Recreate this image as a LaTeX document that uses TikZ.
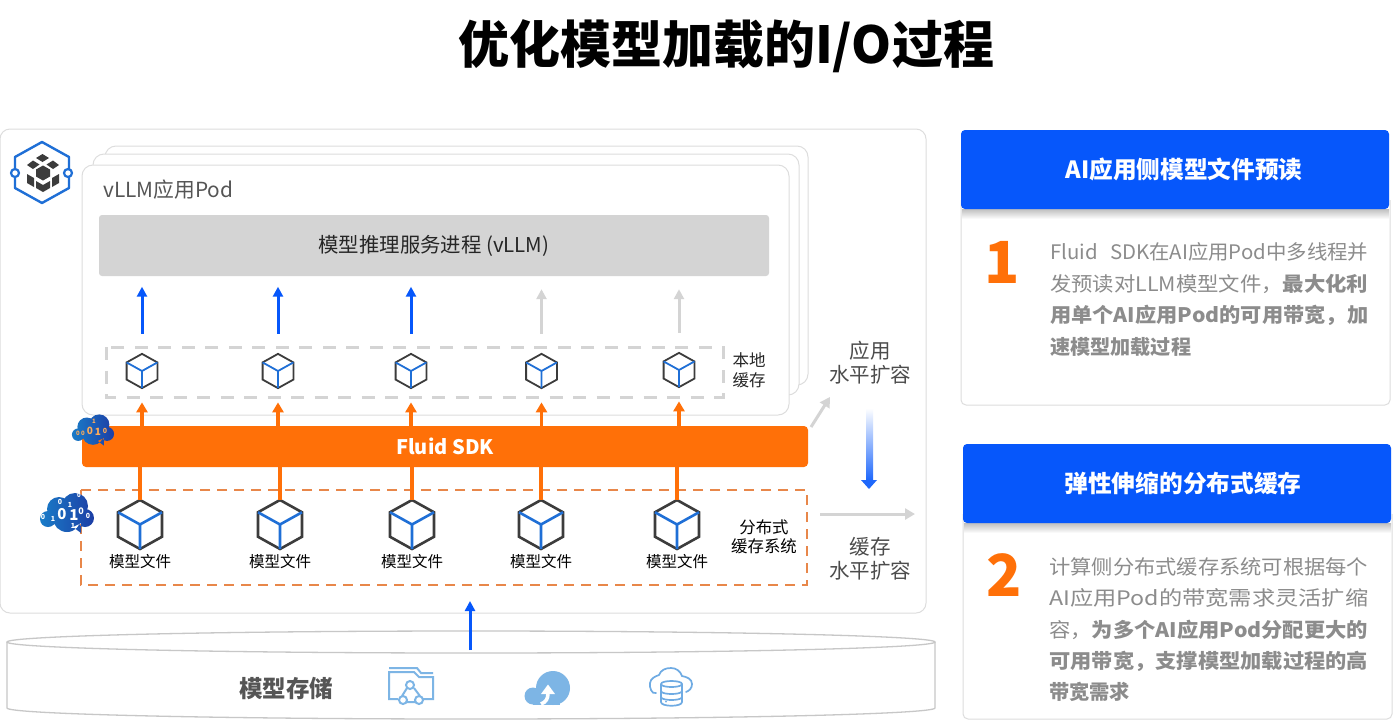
\documentclass[tikz,border=0pt]{standalone}
\usepackage{fontspec}
\setmainfont{Noto Sans CJK SC}
\usetikzlibrary{arrows.meta,calc}
\definecolor{cblue}{HTML}{0657FB}
\definecolor{aorange}{HTML}{FF7008}
\definecolor{dashor}{HTML}{E8874A}
\definecolor{lgray}{HTML}{DDDDDD}
\definecolor{agray}{HTML}{D4D4D4}
\definecolor{cdark}{HTML}{3C3C3C}
\definecolor{ciblue}{HTML}{1F6FD6}
\definecolor{iconb}{HTML}{7DB5E5}
\definecolor{textg}{HTML}{8C8C8C}
\definecolor{labelg}{HTML}{555555}
\definecolor{cloudl}{HTML}{1A7CC8}
\definecolor{cloudr}{HTML}{1C3EA5}
\newcommand{\fs}[1]{\fontsize{#1pt}{#1pt}\selectfont}
\newcommand{\tline}[2]{\resizebox{#1pt}{\height}{#2}}
\tikzset{
  card/.style={draw=lgray,line width=1pt,fill=white,rounded corners=11pt},
  blueup/.style={draw=cblue,line width=3pt,-{Triangle[length=10pt,width=10pt]}},
  grayup/.style={draw=agray,line width=3pt,-{Triangle[length=10pt,width=10pt]}},
  orangeup/.style={draw=aorange,line width=3.4pt,-{Triangle[length=10pt,width=11pt]}},
  orangeln/.style={draw=aorange,line width=3.4pt},
  cubebox/.style={inner sep=0pt,minimum width=#1*44pt,minimum height=#1*49pt},
  lbl/.style={inner sep=0pt,align=center,text=black},
  grayt/.style={inner sep=0pt,anchor=west,text=textg},
  head/.style={fill=cblue,rounded corners=4pt,text=white,font=\fs{23.7}\bfseries},
  pics/cubeicon/.style={code={
    \draw[cdark,line join=miter] (0,-24.5)--(22,-12.25)--(22,12.25)--(0,24.5)--(-22,12.25)--(-22,-12.25)--cycle;
    \draw[ciblue] (-22,-12.25)--(0,0)--(22,-12.25) (0,0)--(0,24.5);
  }},
  pics/bincloud/.style={code={
    \shade[left color=cloudl,right color=cloudr,draw=none]
      (-19,6) circle (8) (-8,-4) circle (12) (8,-7) circle (13) (18,5) circle (9) (0,5) circle (14)
      (6,14)--(14,20)--(14,10)--cycle;
  }},
}
\begin{document}
\begin{tikzpicture}[x=1pt,y=-1pt]
\useasboundingbox (0,0) rectangle (1400,721);
\fill[white] (0,0) rectangle (1400,721);
% title
\node[inner sep=0pt,font=\fs{51}\bfseries,text=black] (title) at (726,46.5) {优化模型加载的I/O过程};
% outer panel
\draw[lgray,line width=1pt,rounded corners=10pt,fill=white] (0,129) rectangle (926,613);
% logo
\draw[ciblue,line width=2.4pt,line join=round] (42,142)--(69,157)--(69,188)--(42,203)--(15,188)--(15,157)--cycle;
\draw[ciblue,line width=2.2pt,fill=white] (15,173) circle (4) (68,173) circle (4);
\fill[cdark] (42.5,154)--(49,158)--(42.5,162)--(36,158)--cycle
  (33,160.5)--(39.5,164.5)--(33,169)--(27,165)--cycle
  (53,160.5)--(59,165)--(53,169)--(46.5,164.5)--cycle
  (43,165.5)--(50,169.5)--(50,176.5)--(43,180.5)--(36,176.5)--(36,169.5)--cycle
  (27,174)--(34,178)--(34,187)--(27,183)--cycle
  (59,174)--(59,183)--(52,187)--(52,178)--cycle
  (36,181)--(43,185)--(50,181)--(50,188)--(43,192)--(36,188)--cycle;
% pods
\draw[card] (105,146) rectangle (808,385);
\draw[card] (93,154) rectangle (799,395);
\draw[card] (82,165) rectangle (789,415);
\node[inner sep=0pt,anchor=west,font=\fs{20.8},text=labelg] (podl) at (103,190) {vLLM应用Pod};
\node[fill=agray,rounded corners=3pt,minimum width=670pt,minimum height=61pt,inner sep=0pt,font=\fs{20.4},text=black!85] (proc) at (434,245.5) {\raisebox{-1pt}{模型推理服务进程 (vLLM)}};
% local cache
\draw[agray,line width=3pt,dash pattern=on 13pt off 10.5pt] (106,347) rectangle (723,397);
\foreach \n/\x/\y in {1/142/371,2/278/371,3/411/371,4/541.5/371,5/679/370}{
  \node[cubebox=.7] (lc\n) at (\x,\y) {};
  \pic[scale=.7,line width=1.8pt] at (lc\n) {cubeicon};
}
\node[lbl,font=\fs{16.5},text=black!85] (loc) at (749,370) {本地\\[3pt]缓存};
% sdk
\node[fill=aorange,rounded corners=4pt,minimum width=726pt,minimum height=41pt,inner sep=0pt,text=white,font=\fs{20}\bfseries] (sdk) at (445,446.5) {Fluid SDK};
% distributed cache
\draw[dashor,line width=1.8pt,dash pattern=on 10pt off 7pt] (81,490) rectangle (807,585);
\foreach \n/\x in {1/140,2/280,3/412,4/541,5/677}{
  \node[cubebox=1] (fc\n) at (\x,524.5) {};
  \pic[line width=2.6pt] at (fc\n) {cubeicon};
  \node[lbl,font=\fs{15.5}] (fl\n) at (\x,561.5) {模型文件};
}
\node[lbl,font=\fs{16.4}] (dist) at (764,537) {分布式\\[3pt]缓存系统};
% connectors
\foreach \n in {1,2,3}{\draw[blueup,shorten <=20pt,shorten >=10.5pt] (lc\n.north) -- (lc\n.north |- proc.south);}
\foreach \n in {4,5}{\draw[grayup,shorten <=20pt,shorten >=13pt] (lc\n.north) -- (lc\n.north |- proc.south);}
\foreach \n in {1,...,5}{
  \draw[orangeup,shorten >=14pt] (sdk.north -| lc\n.south) -- (lc\n.south);
  \draw[orangeln] (fc\n.north) -- (fc\n.north |- sdk.south);
}
% clouds
\pic[transform shape,scale=.78] at (93,430) {bincloud};
\foreach \t/\px/\py/\s in {0/90/431/10,1/98/432/10,0/105/431/7,1/94/421/6,0/83/433/6,0/78/433/6}{
  \node[inner sep=0pt,font=\fs{\s}\bfseries,text=orange!65!white] at (\px,\py) {\t};
}
\pic at (67,513) {bincloud};
\foreach \t/\px/\py/\s in {0/62/514/15,1/74/515/15,0/81/511/9,1/70/505/7,0/60/502/7,1/53/519/7,0/43/517/7,0/88/516/7,1/73/526/7,0/79/495/6}{
  \node[inner sep=0pt,font=\fs{\s}\bfseries,text=white] at (\px,\py) {\t};
}
% scale labels and arrows
\node[lbl,font=\fs{20.5},text=black!70] (appl) at (870,362.5) {应用\\[3pt]水平扩容};
\node[lbl,font=\fs{20.5},text=black!70] (cachel) at (870,558.5) {缓存\\[3pt]水平扩容};
\coordinate (ga1) at (811,427); \coordinate (ga2) at (830,397);
\draw[agray,line width=3pt,-{Triangle[length=10pt,width=11pt]}] (ga1) -- (ga2);
\coordinate (gb1) at (820,514); \coordinate (gb2) at (915,514);
\draw[agray,line width=3pt,-{Triangle[length=10pt,width=11pt]}] (gb1) -- (gb2);
\shade[top color=white,bottom color=cblue!90!white] (866,408) rectangle (873,480);
\fill[cblue!90!white] (861,480)--(877,480)--(869,489)--cycle;
% storage
\draw[lgray!90!black,line width=1.3pt,fill=white] (7,642) -- (7,708) arc[start angle=180,end angle=0,x radius=464,y radius=11] -- (935,642);
\draw[lgray!90!black,line width=1.3pt,fill=white] (471,642) ellipse [x radius=464,y radius=11];
\node[inner sep=0pt,font=\fs{23.5}\bfseries,text=labelg] (store) at (286,688) {模型存储};
\coordinate (st1) at (470,650); \coordinate (st2) at (470,601);
\draw[blueup] (st1) -- (st2);
% folder icon
\begin{scope}[iconb,line width=2pt]
\draw (389,668)--(417,668)--(421,673)--(433,673);
\draw (389,671)--(389,699)--(398,699) (423,699)--(433,699)--(433,677)--(419,677)--(414,672)--(389,672);
\draw[fill=white] (410,685) circle (4) (403,700) circle (4) (419,700) circle (4);
\draw (407,688)--(402,696) (414,688)--(420,696) (407,702)--(415,702);
\end{scope}
% upload cloud icon
\fill[iconb] (533,696) circle (8.5);
\fill[iconb] (553,688) circle (17);
\fill[iconb] (533,695) rectangle (560,704.5);
\fill[white] (548,684.5)--(555,694)--(541,694)--cycle;
\draw[white,line width=3.6pt] (548,693) .. controls (548,699) and (546,702) .. (541,704);
% db cloud icon
\begin{scope}[iconb!85!ciblue,line width=1.7pt]
\draw[line cap=round] (656,693) to[out=200,in=260,looseness=1] (650,683) to[out=80,in=200] (659,675) to[out=70,in=180] (671,668) to[out=0,in=110] (682,676) to[out=-10,in=90] (692,684) to[out=-90,in=20] (686,692);
\draw[fill=white] (661,684) .. controls (661,680) and (682,680) .. (682,684) -- (682,702) .. controls (682,707) and (661,707) .. (661,702) -- cycle;
\draw (661,684) .. controls (661,688) and (682,688) .. (682,684)
      (661,691) .. controls (661,695) and (682,695) .. (682,691)
      (661,697) .. controls (661,701) and (682,701) .. (682,697);
\fill (666,701.5) circle (1);
\end{scope}
% panel 1
\shade[top color=black!25,bottom color=white] (962,209) rectangle (1389,219);
\draw[lgray,line width=1pt,rounded corners=5pt] (961,200) -- (961,405) -- (1390,405) -- (1390,200);
\node[head,minimum width=428pt,minimum height=79pt,inner sep=0pt] (h1) at (1175,169.5) {\hspace{18pt}\raisebox{-1pt}{AI应用侧模型文件预读}};
\node[inner sep=0pt,font=\fs{58}\bfseries,text=aorange] (n1) at (1002.5,262) {1};
\begin{scope}[font=\fs{20}]
\node[grayt] (p11) at (1050,252) {\tline{318}{Fluid\hspace{.6em}SDK在AI应用Pod中多线程并}};
\node[grayt] (p12) at (1050,284) {\tline{318}{发预读对LLM模型文件，\bfseries 最大化利}};
\node[grayt] (p13) at (1050,315.5) {\tline{318}{\bfseries 用单个AI应用Pod的可用带宽，加}};
\node[grayt] (p14) at (1050,347) {\tline{141}{\bfseries 速模型加载过程}};
\end{scope}
% panel 2
\shade[top color=black!25,bottom color=white] (964,523) rectangle (1391,533);
\draw[lgray,line width=1pt,rounded corners=5pt] (963,514) -- (963,719) -- (1392,719) -- (1392,514);
\node[head,minimum width=428pt,minimum height=79pt,inner sep=0pt] (h2) at (1177,483.5) {\hspace{12pt}弹性伸缩的分布式缓存};
\node[inner sep=0pt,font=\fs{58}\bfseries,text=aorange] (n2) at (1004.5,575) {2};
\begin{scope}[font=\fs{20}]
\node[grayt] (p21) at (1049,566.5) {\tline{319}{计算侧分布式缓存系统可根据每个}};
\node[grayt] (p22) at (1049,598) {\tline{319}{AI应用Pod的带宽需求灵活扩缩}};
\node[grayt] (p23) at (1049,629.5) {\tline{319}{容，\bfseries 为多个AI应用Pod分配更大的}};
\node[grayt] (p24) at (1049,661) {\tline{319}{\bfseries 可用带宽，支撑模型加载过程的高}};
\node[grayt] (p25) at (1049,692) {\tline{81}{\bfseries 带宽需求}};
\end{scope}
\end{tikzpicture}
\end{document}
